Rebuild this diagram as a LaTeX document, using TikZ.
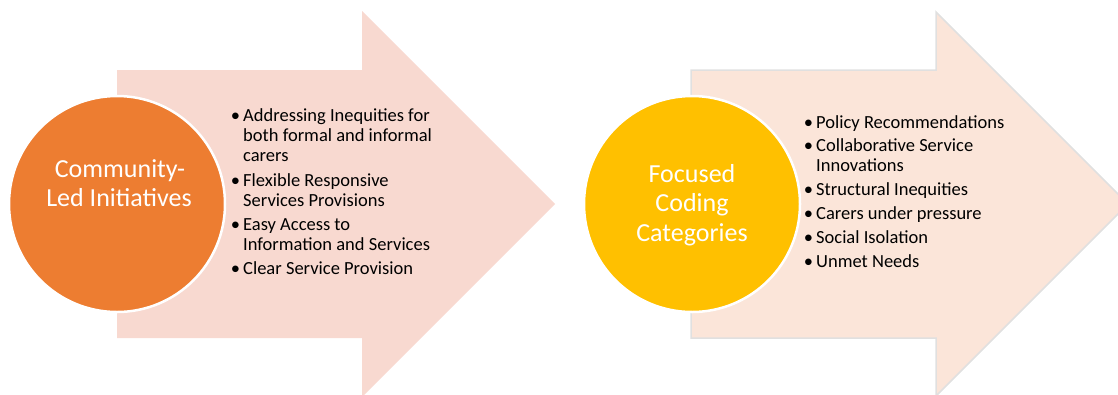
\documentclass[tikz,border=0pt]{standalone}
\usepackage{fontspec}
\setmainfont{Carlito}
\definecolor{pinkfill}{HTML}{F8D9D0}
\definecolor{peachfill}{HTML}{FBE5D9}
\definecolor{arrowline}{HTML}{E0E0E0}
\definecolor{orangec}{HTML}{ED7D31}
\definecolor{yellowc}{HTML}{FFC000}
\newcommand{\bul}{\llap{\textbullet\hspace{3.2pt}}}
\begin{document}
\begin{tikzpicture}[x=1pt,y=-1pt,
  circ/.style={circle,draw=white,line width=2.5pt,minimum size=216pt,inner sep=0pt},
  ctext/.style={anchor=base,inner sep=0pt,text=white,font=\fontsize{26}{29.5}\selectfont},
  item/.style={anchor=base west,inner sep=0pt,align=left,font=\fontsize{18.5}{20}\selectfont}]
\useasboundingbox (0,0) rectangle (1118,394);
\begin{scope}
\clip (0,0) rectangle (1118,394);
% left arrow
\fill[pinkfill] (117,70) -- (362,70) -- (362,11) -- (555,204) -- (362,397) -- (362,338) -- (117,338) -- cycle;
% right arrow
\filldraw[fill=peachfill,draw=arrowline,line width=1.5pt] (691,70) -- (936,70) -- (936,12) -- (1128,204) -- (936,396) -- (936,338) -- (691,338) -- cycle;
\end{scope}
% circles
\node[circ,fill=orangec] (c1) at (117,204) {};
\node[circ,fill=yellowc] (c2) at (692,204) {};
% circle texts
\node[ctext] (c1a) at (120,177) {Community-};
\node[ctext] (c1b) at (119,206) {Led Initiatives};
\node[ctext] (c2a) at (692,182) {Focused};
\node[ctext] (c2b) at (692,211.5) {Coding};
\node[ctext] (c2c) at (692,241) {Categories};
% left items (anchor = baseline of last line)
\node[item] (l1) at (243,161) {\bul Addressing Inequities for\\both formal and informal\\carers};
\node[item] (l2) at (243,206) {\bul Flexible Responsive\\Services Provisions};
\node[item] (l3) at (243,250) {\bul Easy Access to\\Information and Services};
\node[item] (l4) at (243,274) {\bul Clear Service Provision};
% right items
\node[item] (r1) at (816,128) {\bul Policy Recommendations};
\node[item] (r2) at (816,171) {\bul Collaborative Service\\Innovations};
\node[item] (r3) at (816,195) {\bul Structural Inequities};
\node[item] (r4) at (816,219) {\bul Carers under pressure};
\node[item] (r5) at (816,243) {\bul Social Isolation};
\node[item] (r6) at (816,267) {\bul Unmet Needs};
\end{tikzpicture}
\end{document}
